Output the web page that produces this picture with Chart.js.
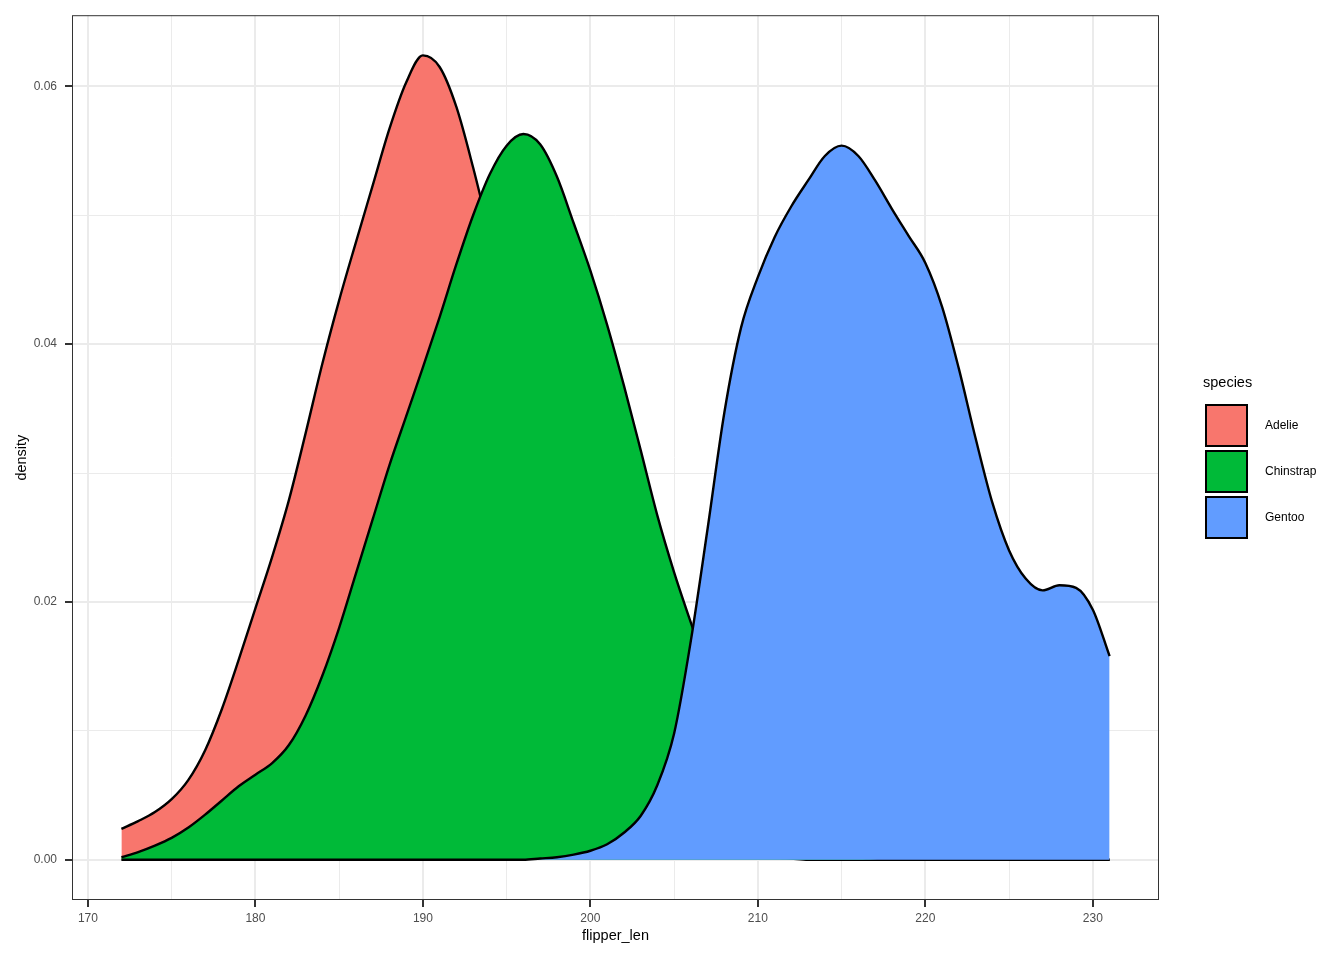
<!DOCTYPE html>
<html>
<head>
<meta charset="utf-8">
<title>flipper_len density by species</title>
<script src="https://cdn.jsdelivr.net/npm/chart.js@4.4.1/dist/chart.umd.min.js"></script>
<style>
  html, body { margin: 0; padding: 0; background: #ffffff; }
  #wrap { position: relative; width: 1344px; height: 960px; font-family: "Liberation Sans", Arial, sans-serif; }
  #legend { position: absolute; left: 0; top: 0; }
  .legend-title { position: absolute; left: 1203px; top: 375px; font-size: 14.5px; line-height: 14.5px; color: #000; white-space: nowrap; }
  .legend-key { position: absolute; left: 1205px; width: 43px; height: 43px; box-sizing: border-box; border: 2px solid #000; }
  .legend-label { position: absolute; left: 1265px; height: 43px; line-height: 43px; font-size: 12px; color: #000; white-space: nowrap; }
</style>
</head>
<body>
<div id="wrap">
  <canvas id="densityChart" width="1344" height="960"></canvas>
  <div id="legend"></div>
</div>
<script>
// flipper length grid (mm) the densities were read at
const flipperLen = [
  172, 173, 174, 175, 176, 177, 178, 179, 180, 181,
  182, 183, 184, 185, 186, 187, 188, 189, 190, 191,
  192, 193, 194, 195, 196, 197, 198, 199, 200, 201,
  202, 203, 204, 205, 206, 207, 208, 209, 210, 211,
  212, 213, 214, 215, 216, 217, 218, 219, 220, 221,
  222, 223, 224, 225, 226, 227, 228, 229, 230, 231
];

// density values
const adelieDensity = [
  0.0024, 0.0030, 0.0037, 0.0047, 0.0062, 0.0085, 0.0117, 0.0155, 0.0195, 0.0235,
  0.0279, 0.0331, 0.0385, 0.0434, 0.0479, 0.0523, 0.0567, 0.0603, 0.0624, 0.0615,
  0.0584, 0.0537, 0.0484, 0.0428, 0.0369, 0.0310, 0.0255, 0.0205, 0.0162, 0.0125,
  0.0095, 0.0070, 0.0050, 0.0036, 0.0025, 0.0017, 0.0011, 0.0007, 0.0004, 0.0002,
  0.0001, 0.0000, 0.0000, 0.0000, 0.0000, 0.0000, 0.0000, 0.0000, 0.0000, 0.0000,
  0.0000, 0.0000, 0.0000, 0.0000, 0.0000, 0.0000, 0.0000, 0.0000, 0.0000, 0.0000
];
const chinstrapDensity = [
  0.0002, 0.0006, 0.0011, 0.0017, 0.0025, 0.0035, 0.0046, 0.0057, 0.0066, 0.0075,
  0.0089, 0.0112, 0.0143, 0.0180, 0.0222, 0.0264, 0.0306, 0.0344, 0.0382, 0.0421,
  0.0462, 0.0500, 0.0532, 0.0554, 0.0563, 0.0555, 0.0530, 0.0494, 0.0457, 0.0415,
  0.0368, 0.0318, 0.0267, 0.0223, 0.0184, 0.0146, 0.0111, 0.0081, 0.0056, 0.0037,
  0.0023, 0.0013, 0.0007, 0.0004, 0.0002, 0.0001, 0.0000, 0.0000, 0.0000, 0.0000,
  0.0000, 0.0000, 0.0000, 0.0000, 0.0000, 0.0000, 0.0000, 0.0000, 0.0000, 0.0000
];
const gentooDensity = [
  0.0000, 0.0000, 0.0000, 0.0000, 0.0000, 0.0000, 0.0000, 0.0000, 0.0000, 0.0000,
  0.0000, 0.0000, 0.0000, 0.0000, 0.0000, 0.0000, 0.0000, 0.0000, 0.0000, 0.0000,
  0.0000, 0.0000, 0.0000, 0.0000, 0.0000, 0.0001, 0.0002, 0.0004, 0.0007, 0.0012,
  0.0021, 0.0034, 0.0058, 0.0098, 0.0170, 0.0257, 0.0347, 0.0413, 0.0452, 0.0483,
  0.0507, 0.0527, 0.0546, 0.0554, 0.0546, 0.0527, 0.0505, 0.0484, 0.0463, 0.0429,
  0.0381, 0.0327, 0.0277, 0.0240, 0.0218, 0.0209, 0.0213, 0.0211, 0.0194, 0.0158
];

const speciesNames = ["Adelie", "Chinstrap", "Gentoo"];
const speciesColors = ["#F8766D", "#00BA38", "#619CFF"];
const speciesDensity = [adelieDensity, chinstrapDensity, gentooDensity];

// major ticks are labelled, minor ones only get a thin grid line
const xTicks = [170, 175, 180, 185, 190, 195, 200, 205, 210, 215, 220, 225, 230];
const yTicks = [0, 0.01, 0.02, 0.03, 0.04, 0.05, 0.06];

// ggplot style 5% expansion of the data range
const xLo = Math.min(...flipperLen), xHi = Math.max(...flipperLen);
const yHi = Math.max(...adelieDensity, ...chinstrapDensity, ...gentooDensity);
const xPad = (xHi - xLo) * 0.05, yPad = yHi * 0.05;

const isMajorX = v => v % 10 === 0;
const isMajorY = v => Math.round(v * 100) % 2 === 0;

const tickFont = { family: "Liberation Sans", size: 12 };
const titleFont = { family: "Liberation Sans", size: 14.5 };

// border around the panel, drawn over the areas like theme_bw
const panelBorder = {
  id: "panelBorder",
  afterDatasetsDraw(chart) {
    const { ctx, chartArea: a } = chart;
    ctx.save();
    ctx.strokeStyle = "#333333";
    ctx.lineWidth = 1;
    ctx.strokeRect(a.left + 0.5, a.top + 0.5, a.width - 1, a.height - 1);
    ctx.restore();
  }
};

// first species drawn first, so Gentoo ends on top
const datasets = speciesNames.map((name, i) => ({
  label: name,
  data: flipperLen.map((x, j) => ({ x: x, y: speciesDensity[i][j] })),
  backgroundColor: speciesColors[i],
  borderColor: "#000000",
  borderWidth: 2.4,
  borderJoinStyle: "round",
  fill: "origin",
  pointRadius: 0,
  pointHoverRadius: 0,
  cubicInterpolationMode: "monotone",
  order: speciesNames.length - i
}));

const ctx = document.getElementById("densityChart").getContext("2d");
new Chart(ctx, {
  type: "line",
  data: { datasets: datasets },
  options: {
    responsive: false,
    animation: false,
    events: [],
    layout: { padding: { left: 0, top: 15, right: 185, bottom: 0 } },
    plugins: {
      legend: { display: false },
      tooltip: { enabled: false }
    },
    scales: {
      x: {
        type: "linear",
        min: xLo - xPad,
        max: xHi + xPad,
        afterBuildTicks: s => { s.ticks = xTicks.map(v => ({ value: v })); },
        afterFit: s => { s.height = 60; },
        ticks: {
          autoSkip: false,
          maxRotation: 0,
          padding: 4,
          color: "#4d4d4d",
          font: tickFont,
          callback: v => isMajorX(v) ? String(v) : ""
        },
        grid: {
          color: "#ebebeb",
          lineWidth: c => (c.tick && isMajorX(c.tick.value)) ? 2 : 1,
          tickLength: 7,
          tickWidth: 2,
          tickColor: c => (c.tick && isMajorX(c.tick.value)) ? "#333333" : "rgba(0,0,0,0)"
        },
        border: { display: false },
        title: {
          display: true,
          text: "flipper_len",
          color: "#000000",
          font: titleFont,
          padding: { top: 0, bottom: 15 }
        }
      },
      y: {
        type: "linear",
        min: -yPad,
        max: yHi + yPad,
        afterBuildTicks: s => { s.ticks = yTicks.map(v => ({ value: v })); },
        afterFit: s => { s.width = 72; },
        ticks: {
          padding: 8,
          color: "#4d4d4d",
          font: tickFont,
          callback: v => isMajorY(v) ? v.toFixed(2) : ""
        },
        grid: {
          color: "#ebebeb",
          lineWidth: c => (c.tick && isMajorY(c.tick.value)) ? 2 : 1,
          tickLength: 7,
          tickWidth: 2,
          tickColor: c => (c.tick && isMajorY(c.tick.value)) ? "#333333" : "rgba(0,0,0,0)"
        },
        border: { display: false },
        title: {
          display: true,
          text: "density",
          color: "#000000",
          font: titleFont,
          padding: { top: 13, bottom: 0 }
        }
      }
    }
  },
  plugins: [panelBorder]
});

// legend, laid out like the ggplot guide
const legend = document.getElementById("legend");
legend.innerHTML = '<div class="legend-title">species</div>';
speciesNames.forEach((name, i) => {
  const top = 404 + i * 46;
  legend.innerHTML +=
    '<div class="legend-key" style="top:' + top + 'px;background:' + speciesColors[i] + '"></div>' +
    '<div class="legend-label" style="top:' + top + 'px">' + name + '</div>';
});
</script>
</body>
</html>
